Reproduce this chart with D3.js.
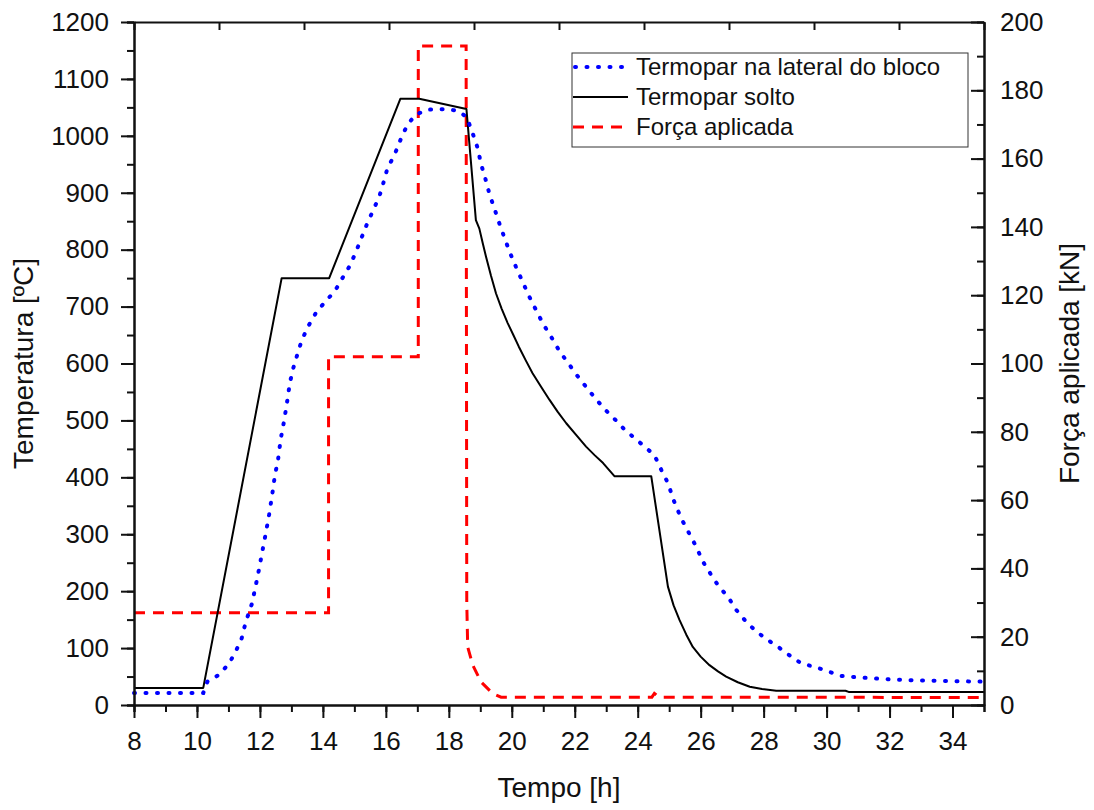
<!DOCTYPE html>
<html>
<head>
<meta charset="utf-8">
<script src="https://cdn.jsdelivr.net/npm/d3@7"></script>
<style>
  body { margin: 0; background: #fff; }
  svg text { font-family: "Liberation Sans", Arial, sans-serif; fill: #111; }
  .axis path, .axis line { stroke: #111; stroke-width: 2; }
</style>
</head>
<body>
<div id="chart"></div>
<script>
// --- data ---
const lateralTime = [8, 10.2, 10.33, 10.7, 11.02, 11.23, 11.42, 11.55, 11.74, 11.85, 11.97, 12.08, 12.19, 12.29, 12.38, 12.47, 12.58, 12.66, 12.77, 12.87, 12.95, 13.06, 13.2, 13.33, 13.54, 13.8, 14.1, 14.39, 14.62, 14.87, 15.07, 15.4, 15.79, 15.92, 16.05, 16.27, 16.48, 16.68, 16.94, 17.33, 17.9, 18.28, 18.57, 18.76, 18.92, 19.02, 19.16, 19.29, 19.45, 19.6, 19.76, 19.94, 20.13, 20.34, 20.56, 20.77, 21.0, 21.25, 21.51, 21.8, 22.06, 22.36, 22.68, 23.0, 23.29, 23.58, 23.9, 24.22, 24.53, 24.75, 24.96, 25.14, 25.38, 25.6, 25.86, 26.07, 26.34, 26.58, 26.87, 27.13, 27.45, 27.77, 28.14, 28.51, 28.88, 29.2, 29.62, 30.05, 30.47, 30.89, 31.42, 32.0, 33, 34, 35]
const lateralTemp = [21, 21, 41, 53, 73, 94, 117, 146, 177, 205, 238, 271, 303, 334, 366, 401, 433, 467, 500, 535, 566, 592, 618, 641, 666, 691, 710, 728, 750, 773, 799, 845, 893, 917, 943, 966, 995, 1019, 1037, 1046, 1047, 1044, 1033, 1004, 978, 951, 925, 898, 872, 847, 822, 795, 770, 744, 717, 694, 669, 647, 622, 600, 580, 559, 537, 517, 501, 484, 469, 454, 439, 413, 390, 360, 328, 305, 278, 252, 228, 208, 190, 167, 146, 129, 114, 100, 85, 73, 67, 59, 51, 49, 47, 45, 43, 42, 41]

const soltoTime = [8, 10.2, 12.69, 14.2, 16.46, 17.06, 18.56, 18.86, 18.97, 19.08, 19.18, 19.34, 19.5, 19.68, 19.87, 20.05, 20.22, 20.44, 20.66, 20.93, 21.2, 21.46, 21.73, 22.05, 22.36, 22.63, 22.9, 23.26, 24.43, 24.96, 25.14, 25.33, 25.54, 25.75, 26.0, 26.28, 26.55, 26.81, 27.18, 27.56, 27.95, 28.4, 30.6, 30.7, 35]
const soltoTemp = [30, 30, 750, 750, 1065, 1065, 1047, 852, 837, 811, 788, 754, 723, 696, 671, 650, 630, 606, 583, 559, 536, 515, 495, 474, 454, 439, 425, 402, 402, 208, 175, 149, 124, 102, 85, 70, 59, 50, 40, 32, 28, 25, 25, 23, 23]

const forcaTime = [8, 14.18, 14.18, 17.03, 17.03, 18.55, 18.57, 18.6, 18.76, 19.02, 19.39, 19.66, 24.45, 24.53, 24.64, 24.75, 35]
const forcaKN = [27, 27, 102, 102, 193, 193, 30, 17, 11.7, 6.8, 3.4, 2.3, 2.3, 3.4, 2.6, 2.3, 2.2]

const xTicks = d3.range(8, 35, 2)
const xMinor = d3.range(8, 36, 1)
const tempTicks = d3.range(0, 1201, 100)
const tempMinor = d3.range(0, 1201, 50)
const forcaTicks = d3.range(0, 201, 20)
const forcaMinor = d3.range(0, 201, 10)

const seriesNames = ['Termopar na lateral do bloco', 'Termopar solto', 'Força aplicada']

// --- layout ---
const width = 1094
const height = 810
const plotL = 134, plotR = 984, plotT = 22, plotB = 705

const svg = d3.select('#chart')
    .append('svg')
    .attr('width', width)
    .attr('height', height)

const x = d3.scaleLinear().domain([8, 35]).range([plotL, plotR])
const yT = d3.scaleLinear().domain([0, 1200]).range([plotB, plotT])
const yF = d3.scaleLinear().domain([0, 200]).range([plotB, plotT])

const zip = (a, b) => a.map((v, i) => [v, b[i]])

// lines
const lineT = d3.line().x(d => x(d[0])).y(d => yT(d[1]))
const lineF = d3.line().x(d => x(d[0])).y(d => yF(d[1]))

const plot = svg.append('g')

plot.append('path')
    .attr('d', lineF(zip(forcaTime, forcaKN)))
    .attr('fill', 'none')
    .attr('stroke', '#ff0000')
    .attr('stroke-width', 3)
    .attr('stroke-dasharray', '11 8')

plot.append('path')
    .attr('d', lineT(zip(soltoTime, soltoTemp)))
    .attr('fill', 'none')
    .attr('stroke', '#000')
    .attr('stroke-width', 2)
    .attr('stroke-linejoin', 'round')

plot.append('path')
    .attr('d', lineT(zip(lateralTime, lateralTemp)))
    .attr('fill', 'none')
    .attr('stroke', '#0000ff')
    .attr('stroke-width', 4)
    .attr('stroke-linecap', 'round')
    .attr('stroke-dasharray', '1 10.5')

// axes
const fontSize = 26
const fmt = d3.format('d')

const gx = svg.append('g').attr('class', 'axis')
    .attr('transform', `translate(0,${plotB})`)
gx.call(d3.axisBottom(x).tickValues(xMinor).tickSize(7).tickFormat(''))
gx.append('g').call(d3.axisBottom(x).tickValues(xTicks).tickFormat(fmt).tickSizeInner(13).tickSizeOuter(0).tickPadding(14))
gx.selectAll('text').style('font-size', fontSize + 'px')

const gl = svg.append('g').attr('class', 'axis')
    .attr('transform', `translate(${plotL},0)`)
gl.call(d3.axisLeft(yT).tickValues(tempMinor).tickSize(7).tickFormat(''))
gl.append('g').call(d3.axisLeft(yT).tickValues(tempTicks).tickFormat(fmt).tickSizeInner(13).tickSizeOuter(0).tickPadding(12))
gl.selectAll('text').style('font-size', fontSize + 'px')

const gr = svg.append('g').attr('class', 'axis')
    .attr('transform', `translate(${plotR},0)`)
gr.call(d3.axisRight(yF).tickValues(forcaMinor).tickSizeInner(-7).tickSizeOuter(0).tickFormat(''))
gr.append('g').call(d3.axisRight(yF).tickValues(forcaTicks).tickFormat(fmt).tickSizeInner(-13).tickSizeOuter(0).tickPadding(16))
gr.selectAll('text').style('font-size', fontSize + 'px')

const xTop = d3.scaleLinear().domain([0, 10]).range([plotL, plotR])
svg.append('g').attr('class', 'axis')
    .attr('transform', `translate(0,${plotT})`)
    .call(d3.axisTop(xTop).ticks(10).tickSizeInner(-8).tickSizeOuter(0).tickFormat(''))

// axis titles
svg.append('text')
    .attr('x', (plotL + plotR) / 2)
    .attr('y', 797)
    .attr('text-anchor', 'middle')
    .style('font-size', '28px')
    .text('Tempo [h]')

svg.append('text')
    .attr('transform', `translate(33,${(plotT + plotB) / 2}) rotate(-90)`)
    .attr('text-anchor', 'middle')
    .style('font-size', '28px')
    .text('Temperatura [ºC]')

svg.append('text')
    .attr('transform', `translate(1079,${(plotT + plotB) / 2}) rotate(-90)`)
    .attr('text-anchor', 'middle')
    .style('font-size', '28px')
    .text('Força aplicada [kN]')

// legend
const legend = svg.append('g')
legend.append('rect')
    .attr('x', 572).attr('y', 53)
    .attr('width', 396).attr('height', 94)
    .attr('fill', '#fff')
    .attr('stroke', '#333')
    .attr('stroke-width', 1)

const legendStyles = [
    { stroke: '#0000ff', width: 4, dash: '1 10.5', cap: 'round' },
    { stroke: '#000', width: 2, dash: null, cap: 'butt' },
    { stroke: '#ff0000', width: 3, dash: '11 8', cap: 'butt' }
]

seriesNames.forEach((name, i) => {
    const cy = 67 + i * 30
    const s = legendStyles[i]
    legend.append('line')
        .attr('x1', i === 0 ? 575 : 573).attr('x2', 628)
        .attr('y1', cy).attr('y2', cy)
        .attr('stroke', s.stroke)
        .attr('stroke-width', s.width)
        .attr('stroke-linecap', s.cap)
        .attr('stroke-dasharray', s.dash)
    legend.append('text')
        .attr('x', 636)
        .attr('y', cy)
        .attr('dy', '0.35em')
        .style('font-size', '24px')
        .text(name)
})
</script>
</body>
</html>
